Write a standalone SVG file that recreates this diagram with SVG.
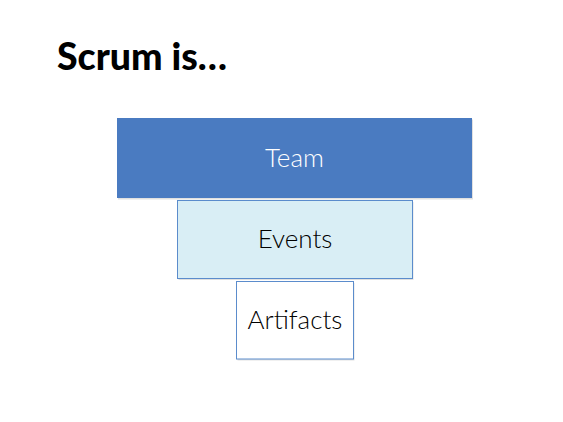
<svg xmlns="http://www.w3.org/2000/svg" width="563" height="422" viewBox="0 0 563 422">
<defs>
<style>
.lbl{font-family:Lato,"Noto Sans",sans-serif;font-weight:300;font-size:26px;text-anchor:middle}
.sh{fill:#000;opacity:0.12}
</style>
</defs>
<rect width="563" height="422" fill="#fff"/>
<text x="57" y="69.5" font-family="Lato,'Noto Sans',sans-serif" font-weight="900" font-size="37" fill="#000" textLength="170" lengthAdjust="spacingAndGlyphs">Scrum is…</text>
<g id="team">
<rect class="sh" x="118" y="119.5" width="355" height="80"/>
<rect x="117" y="118" width="355" height="80" fill="#4a7bc1"/>
<text class="lbl" x="294.5" y="166.5" fill="#fff">Team</text>
</g>
<g id="events">
<rect class="sh" x="178.5" y="202" width="235" height="78"/>
<rect x="177.5" y="200.5" width="235" height="78" fill="#d9eef5" stroke="#5b8ccc" stroke-width="1"/>
<text class="lbl" x="295" y="247.5" fill="#000">Events</text>
</g>
<g id="artifacts">
<rect class="sh" x="237.5" y="283" width="117" height="77.5"/>
<rect x="236.5" y="281.5" width="117" height="77.5" fill="#fff" stroke="#5b8ccc" stroke-width="1"/>
<text class="lbl" x="295" y="328.5" fill="#000">Artifacts</text>
</g>
<g id="connectors"/>
</svg>
